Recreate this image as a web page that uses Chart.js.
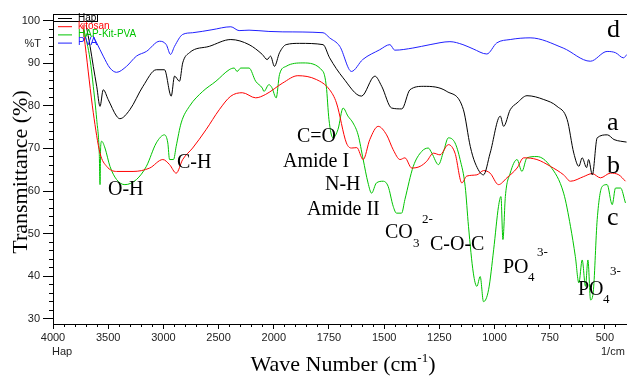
<!DOCTYPE html>
<html>
<head>
<meta charset="utf-8">
<script src="https://cdn.jsdelivr.net/npm/chart.js@4.4.0/dist/chart.umd.min.js"></script>
<style>
  html, body { margin: 0; padding: 0; background: #fff; }
  #wrap { width: 627px; height: 378px; }
</style>
</head>
<body>
<div id="wrap"><canvas id="ftir" width="627" height="378"></canvas></div>
<script>
// wave number (1/cm) and %T
const hapWave = [3700, 3664, 3635, 3604, 3574, 3545, 3500, 3424, 3394, 3304, 3185, 3064, 2990, 2929, 2899, 2854, 2825, 2764, 2584, 2389, 2224, 2104, 2060, 2029, 1997, 1974, 1944, 1883, 1777, 1747, 1686, 1603, 1542, 1511, 1466, 1420, 1383, 1322, 1216, 1141, 1110, 1088, 1050, 1020, 974, 959, 929, 898, 853, 777, 717, 671, 641, 618, 603, 583, 574, 557, 535, 489, 459, 429, 402];
const hapT = [99, 94.0, 89.3, 84.6, 79.9, 83.8, 81.5, 77.6, 77.0, 79.1, 84.6, 88.5, 88.5, 82.3, 87.0, 85.8, 90.1, 92.5, 94.0, 95.6, 94.4, 92.1, 90.9, 91.7, 89.3, 92.5, 94.4, 94.7, 94.4, 91.3, 86.6, 82.3, 87.0, 84.6, 79.5, 79.3, 83.8, 84.6, 83.4, 79.1, 70.5, 66.6, 63.8, 68.9, 77.6, 75.2, 79.1, 80.7, 82.4, 81.5, 79.9, 76.8, 68.9, 65.8, 67.8, 65.5, 67.4, 63.8, 72.5, 73.2, 72.1, 71.7, 71.5];

const kitWave = [3730, 3709, 3635, 3574, 3514, 3424, 3275, 3124, 3005, 2944, 2884, 2825, 2735, 2614, 2494, 2389, 2285, 2164, 2074, 1959, 1891, 1807, 1747, 1716, 1671, 1648, 1624, 1595, 1565, 1527, 1489, 1459, 1428, 1406, 1375, 1337, 1307, 1277, 1247, 1209, 1179, 1148, 1126, 1080, 1050, 1020, 982, 944, 898, 868, 808, 747, 687, 656, 596, 558, 520, 475, 437, 407];
const kitT = [99.0, 94.4, 78.4, 68.9, 65.8, 64.6, 64.6, 65.4, 67.4, 66.2, 64.2, 67.4, 70.1, 74.4, 79.1, 82.3, 83.1, 81.9, 82.7, 85.4, 87.1, 86.2, 83.8, 80.7, 71.3, 70.1, 70.2, 67.4, 72.1, 75.2, 73.2, 69.7, 67.4, 67.8, 65.4, 65.8, 67.0, 68.9, 68.5, 70.9, 68.9, 61.9, 63.5, 63.8, 64.8, 64.2, 61.5, 63.1, 65.4, 67.8, 67.4, 65.8, 63.8, 62.3, 63.4, 64.1, 63.1, 64.2, 63.8, 62.3];

const mixWave = [3720, 3664, 3635, 3604, 3581, 3574, 3568, 3559, 3529, 3484, 3424, 3349, 3244, 3154, 3064, 2990, 2960, 2944, 2908, 2884, 2839, 2764, 2644, 2524, 2404, 2359, 2332, 2299, 2224, 2164, 2104, 2089, 2044, 2017, 1989, 1974, 1944, 1868, 1777, 1762, 1750, 1732, 1709, 1686, 1664, 1641, 1618, 1595, 1573, 1557, 1535, 1504, 1482, 1459, 1444, 1421, 1406, 1368, 1330, 1300, 1284, 1254, 1231, 1209, 1179, 1156, 1133, 1118, 1096, 1080, 1065, 1050, 1027, 1004, 982, 971, 962, 951, 929, 898, 876, 853, 808, 747, 687, 656, 634, 618, 603, 588, 577, 565, 552, 535, 512, 490, 467, 452, 429, 407];
const mixT = [98, 90.9, 84.6, 76.8, 68.9, 61.5, 70.5, 71.7, 70.1, 65.8, 62.7, 61.5, 62.7, 65.8, 71.3, 73.2, 71.3, 67.4, 67.4, 70.5, 76.0, 79.9, 83.4, 85.8, 88.5, 88.9, 88.1, 88.9, 88.9, 85.8, 84.2, 83.4, 85.0, 84.3, 81.9, 87.4, 89.3, 90.1, 88.1, 84.6, 76.8, 72.5, 74.5, 79.5, 77.6, 76.0, 73.2, 67.4, 61.9, 59.5, 61.9, 62.3, 61.1, 56.4, 54.8, 54.8, 58.0, 65.8, 69.3, 70.1, 68.9, 66.2, 69.3, 72.5, 71.3, 67.4, 61.1, 51.7, 40.7, 37.6, 39.9, 34.0, 36.8, 46.2, 56.4, 58.7, 48.6, 58.7, 64.2, 67.4, 64.6, 67.8, 68.1, 65.8, 59.5, 51.7, 44.6, 38.4, 43.8, 37.6, 43.8, 34.4, 36.8, 53.3, 61.1, 61.5, 56.8, 60.7, 60.7, 57.2];

const pvaWave = [3640, 3604, 3545, 3484, 3424, 3334, 3244, 3154, 3034, 2974, 2935, 2899, 2825, 2735, 2560, 2389, 2314, 2224, 2044, 1959, 1777, 1747, 1701, 1648, 1597, 1520, 1474, 1452, 1370, 1292, 1202, 1143, 1097, 1035, 990, 929, 839, 689, 566, 490, 452, 416, 400];
const pvaT = [96.5, 94.8, 91.7, 88.9, 87.9, 89.3, 91.7, 92.8, 95.2, 94.4, 92.1, 94.0, 96.8, 97.2, 97.9, 98.6, 97.7, 97.8, 97.5, 97.4, 97.2, 96.0, 94.0, 88.1, 90.9, 93.2, 94.4, 93.1, 93.6, 94.4, 95.1, 94.4, 93.4, 92.2, 94.8, 95.6, 96.0, 93.6, 90.5, 92.8, 92.5, 91.3, 92.1];

const seriesNames = ['Hap', 'kitosan', 'HAP-Kit-PVA', 'PVA'];
const seriesColors = ['#000000', '#ff0000', '#00c400', '#2020ff'];

const xMajorTicks = [4000, 3500, 3000, 2500, 2000, 1750, 1500, 1250, 1000, 750, 500];
const yMajorTicks = [30, 40, 50, 60, 70, 80, 90, 100];

// minor tick marks: every 100 above 2000, every 50 below, every 2 on %T
const xMinorTicks = [];
for (let v = 4000; v >= 400; v -= (v > 2000 ? 100 : 50)) xMinorTicks.push(v);
const yMinorTicks = [];
for (let v = 30; v <= 100; v += 2) yMinorTicks.push(v);

// FTIR axis: 4000-2000 drawn at half the scale of 2000-400
class FtirScale extends Chart.LinearScale {
  toUnits(v) { return v >= 2000 ? 4000 - v : 2000 + (2000 - v) * 2; }
  getPixelForValue(v) {
    return this.left + this.width * this.toUnits(v) / this.toUnits(this.min);
  }
  getValueForPixel(p) {
    const u = (p - this.left) / this.width * this.toUnits(this.min);
    return u <= 2000 ? 4000 - u : 2000 - (u - 2000) / 2;
  }
}
FtirScale.id = 'ftir';
FtirScale.defaults = Chart.LinearScale.defaults;
Chart.register(FtirScale);

const toPoints = (xs, ys) => xs.map((x, i) => ({ x: x, y: ys[i] }));
const allSeries = [[hapWave, hapT], [kitWave, kitT], [mixWave, mixT], [pvaWave, pvaT]];

const datasets = allSeries.map((s, i) => ({
  label: seriesNames[i],
  data: toPoints(s[0], s[1]),
  borderColor: seriesColors[i],
  borderWidth: 1,
  pointRadius: 0,
  cubicInterpolationMode: 'monotone',
  fill: false
}));

const serif = "'Liberation Serif', 'Times New Roman', serif";
const sans = "'Liberation Sans', Arial, sans-serif";

// band labels [text, x, baseline, size]
const labels = [
  ['O-H', 108, 195, 20], ['C-H', 177, 168, 20], ['C=O', 297, 142, 20],
  ['Amide I', 283, 167, 20], ['N-H', 325, 190, 20], ['Amide II', 307, 215, 20],
  ['CO', 385, 238, 20], ['3', 413, 247, 13], ['2-', 422, 223, 13],
  ['C-O-C', 430, 250, 20],
  ['PO', 503, 273, 20], ['4', 528, 281, 13], ['3-', 537, 256, 13],
  ['PO', 578, 295, 20], ['4', 603, 303, 13], ['3-', 610, 275, 13],
  ['d', 607, 37, 26], ['a', 607, 130, 26], ['b', 607, 173, 26], ['c', 607, 225, 26]
];

const textPlugin = {
  id: 'ftirText',
  afterDraw(chart) {
    const ctx = chart.ctx;
    const area = chart.chartArea;
    ctx.save();
    ctx.strokeStyle = '#000';
    ctx.lineWidth = 1;
    ctx.beginPath();
    ctx.moveTo(area.left, area.top + 0.5);
    ctx.lineTo(area.right, area.top + 0.5);
    ctx.stroke();

    // legend
    ctx.strokeRect(area.left + 0.5, area.top + 0.5, 44, 7);
    ctx.font = '10px ' + sans;
    ctx.textBaseline = 'middle';
    chart.data.datasets.forEach((ds, i) => {
      const y = 18 + i * 8.2;
      ctx.strokeStyle = ds.borderColor;
      ctx.beginPath();
      ctx.moveTo(58, y + 0.5);
      ctx.lineTo(72, y + 0.5);
      ctx.stroke();
      ctx.fillStyle = ds.borderColor;
      ctx.fillText(ds.label, 78, y);
    });

    ctx.fillStyle = '#000';
    ctx.textBaseline = 'alphabetic';
    labels.forEach(l => {
      ctx.font = l[3] + 'px ' + serif;
      ctx.fillText(l[0], l[1], l[2]);
    });

    ctx.fillStyle = '#222';
    ctx.font = '11px ' + sans;
    ctx.textAlign = 'right';
    ctx.textBaseline = 'middle';
    ctx.fillText('%T', 41, 44);
    ctx.textAlign = 'left';
    ctx.textBaseline = 'alphabetic';
    ctx.fillText('Hap', 52, 355);
    ctx.fillText('1/cm', 601, 355);

    // axis titles
    ctx.fillStyle = '#000';
    ctx.font = '22px ' + serif;
    const base = 'Wave Number (cm';
    ctx.font = '22px ' + serif;
    const w1 = ctx.measureText(base).width;
    ctx.font = '13px ' + serif;
    const w2 = ctx.measureText('-1').width;
    ctx.font = '22px ' + serif;
    const w3 = ctx.measureText(')').width;
    let x0 = 343 - (w1 + w2 + w3) / 2;
    ctx.fillText(base, x0, 371);
    ctx.font = '13px ' + serif;
    ctx.fillText('-1', x0 + w1, 362);
    ctx.font = '22px ' + serif;
    ctx.fillText(')', x0 + w1 + w2, 371);

    ctx.translate(27, 172);
    ctx.rotate(-Math.PI / 2);
    ctx.textAlign = 'center';
    ctx.fillText('Transmittance (%)', 0, 0);
    ctx.restore();
  }
};

const axisBase = (pos, weight) => ({
  position: pos,
  weight: weight,
  border: { display: true, color: '#000', width: 1 },
  grid: { drawOnChartArea: false, color: '#000', lineWidth: 1 }
});

new Chart(document.getElementById('ftir'), {
  type: 'line',
  data: { datasets: datasets },
  options: {
    responsive: false,
    animation: false,
    events: [],
    layout: { padding: { top: 14, right: 0, left: 0, bottom: 0 } },
    plugins: { legend: { display: false }, tooltip: { enabled: false } },
    scales: {
      x: Object.assign(axisBase('bottom', 1), {
        type: 'ftir', min: 400, max: 4000,
        grid: { drawOnChartArea: false, color: '#000', tickLength: 5 },
        ticks: { autoSkip: false, maxRotation: 0, padding: 2, color: '#222',
          font: { family: sans, size: 11 }, callback: v => String(v) },
        afterBuildTicks: s => { s.ticks = xMajorTicks.map(v => ({ value: v })); },
        afterFit: s => { s.height = 54; }
      }),
      x2: Object.assign(axisBase('bottom', 0), {
        type: 'ftir', min: 400, max: 4000,
        grid: { drawOnChartArea: false, color: '#000', tickLength: 3 },
        ticks: { display: false },
        afterBuildTicks: s => { s.ticks = xMinorTicks.map(v => ({ value: v })); },
        afterFit: s => { s.height = 0; }
      }),
      y: Object.assign(axisBase('left', 1), {
        type: 'linear', min: 28.75, max: 101.6,
        grid: { drawOnChartArea: false, color: '#000', tickLength: 10 },
        ticks: { padding: 3, color: '#222', font: { family: sans, size: 11 },
          callback: v => String(v) },
        afterBuildTicks: s => { s.ticks = yMajorTicks.map(v => ({ value: v })); },
        afterFit: s => { s.width = 53; }
      }),
      y2: Object.assign(axisBase('left', 0), {
        type: 'linear', min: 28.75, max: 101.6,
        grid: { drawOnChartArea: false, color: '#000', tickLength: 4 },
        ticks: { display: false },
        afterBuildTicks: s => { s.ticks = yMinorTicks.map(v => ({ value: v })); },
        afterFit: s => { s.width = 0; }
      })
    }
  },
  plugins: [textPlugin]
});
</script>
</body>
</html>
